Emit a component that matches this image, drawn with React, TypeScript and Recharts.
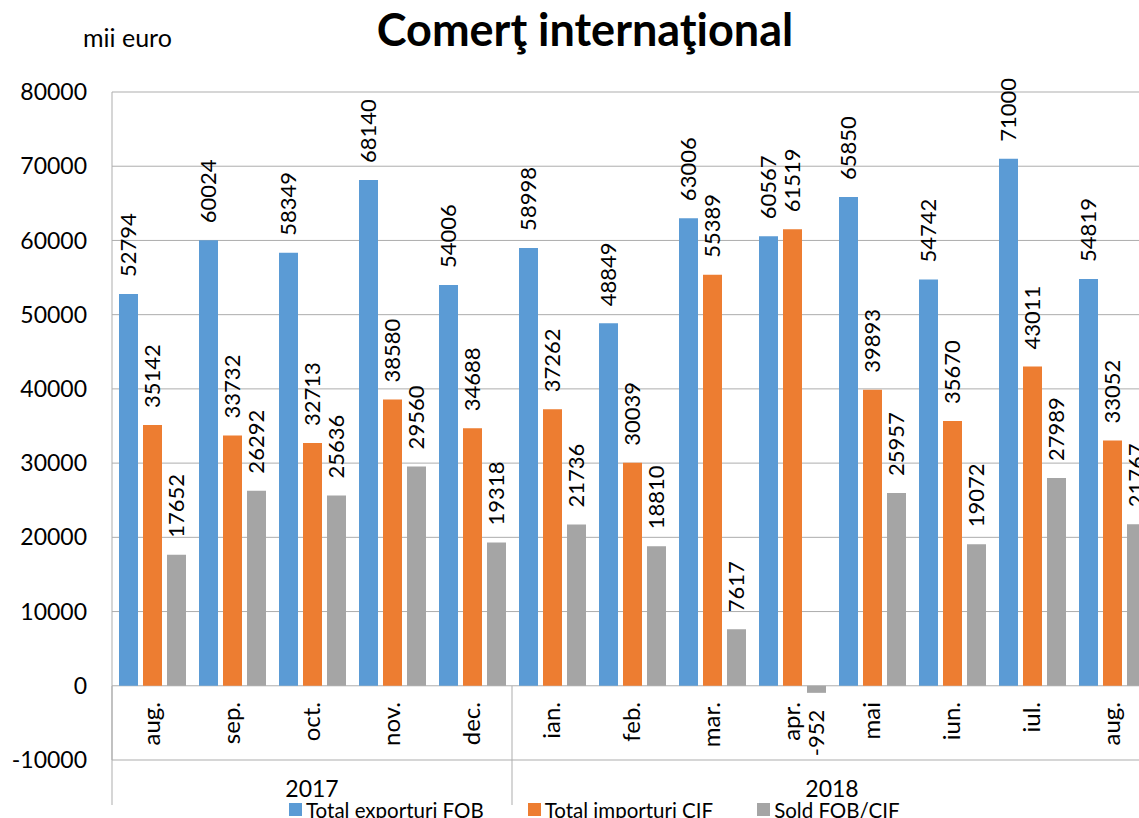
import React from 'react';
import { BarChart, Bar, XAxis, YAxis, CartesianGrid, Legend, LabelList } from 'recharts';

const months = ['aug.', 'sep.', 'oct.', 'nov.', 'dec.', 'ian.', 'feb.', 'mar.', 'apr.', 'mai', 'iun.', 'iul.', 'aug.'];
const years = ['2017', '2018'];
const monthsPerYear = [5, 8];

const exporturi = [52794, 60024, 58349, 68140, 54006, 58998, 48849, 63006, 60567, 65850, 54742, 71000, 54819];
const importuri = [35142, 33732, 32713, 38580, 34688, 37262, 30039, 55389, 61519, 39893, 35670, 43011, 33052];
const sold = [17652, 26292, 25636, 29560, 19318, 21736, 18810, 7617, -952, 25957, 19072, 27989, 21767];

const seriesNames = ['Total exporturi FOB', 'Total importuri CIF', 'Sold FOB/CIF'];

const yTicks = [-10000, 0, 10000, 20000, 30000, 40000, 50000, 60000, 70000, 80000];

const data = months.map((m, i) => ({
  month: m,
  exp: exporturi[i],
  imp: importuri[i],
  sold: sold[i],
}));

const FONT = 'Lato, "Open Sans", sans-serif';
const GRID = '#adadad';

// group start index for each year, derived from monthsPerYear
const groupStarts = monthsPerYear.map((_, g) => monthsPerYear.slice(0, g).reduce((a, b) => a + b, 0));

const MonthTick = (props: any) => {
  const { x, y, payload, index } = props;
  const half = payload && payload.offset ? payload.offset : 40;
  const g = groupStarts.indexOf(index);
  const lastIdx = months.length - 1;
  return (
    <g>
      <text
        x={x}
        y={y - 58}
        transform={`rotate(-90, ${x}, ${y - 58})`}
        textAnchor="end"
        dy="0.35em"
        fontSize={24}
        fontFamily={FONT}
        fill="#000"
      >
        {payload.value}
      </text>
      {g >= 0 && (
        <>
          <line x1={x - half} x2={x - half} y1={y - 74} y2={y + 45} stroke={GRID} strokeWidth={1} />
          <text
            x={x - half + monthsPerYear[g] * half}
            y={y + 37}
            textAnchor="middle"
            fontSize={23}
            fontFamily={FONT}
            fill="#000"
          >
            {years[g]}
          </text>
        </>
      )}
      {index === lastIdx && (
        <line x1={x + half} x2={x + half} y1={y - 74} y2={y + 45} stroke={GRID} strokeWidth={1} />
      )}
    </g>
  );
};

const ValueLabel = (props: any) => {
  const { x, y, width, height, value } = props;
  const cx = x + width / 2;
  const top = Math.min(y, y + height);
  const bottom = Math.max(y, y + height);
  const neg = value < 0;
  const ty = neg ? bottom + 17 : top - 17;
  return (
    <text
      x={cx}
      y={ty}
      transform={`rotate(-90, ${cx}, ${ty})`}
      textAnchor={neg ? 'end' : 'start'}
      dy="0.36em"
      fontSize={22}
      fontFamily={FONT}
      fill="#000"
    >
      {value}
    </text>
  );
};

const LegendContent = (props: any) => {
  const items = [...(props.payload || [])].sort(
    (a: any, b: any) => seriesNames.indexOf(a.value) - seriesNames.indexOf(b.value)
  );
  return (
    <div style={{ display: 'flex', height: 28, paddingLeft: 289, fontFamily: FONT, fontSize: 20.5, color: '#000' }}>
      {items.map((p: any, i: number) => (
        <div key={i} style={{ display: 'flex', alignItems: 'flex-start', marginRight: 44, lineHeight: '17px' }}>
          <span style={{ display: 'inline-block', width: 13, height: 13, background: p.color, marginRight: 4, marginTop: 1 }} />
          <span>{p.value}</span>
        </div>
      ))}
    </div>
  );
};

export default function App() {
  return (
    <div style={{ position: 'absolute', left: 0, top: 0, width: 1139, height: 818, overflow: 'hidden', background: '#fff' }}>
      <div style={{ position: 'absolute', left: 83, top: 22, fontFamily: FONT, fontSize: 25, color: '#000' }}>mii euro</div>
      <div
        style={{
          position: 'absolute',
          left: 0,
          width: 1170,
          top: 2,
          textAlign: 'center',
          fontFamily: FONT,
          fontWeight: 'bold',
          fontSize: 45,
          color: '#000',
        }}
      >
        Comerţ internaţional
      </div>
      <div style={{ position: 'absolute', left: 0, top: 0 }}>
        <BarChart
          width={1184}
          height={830}
          data={data}
          margin={{ top: 92, right: 32, left: 0, bottom: 0 }}
          barCategoryGap={7}
          barGap={5}
        >
          <CartesianGrid vertical={false} stroke={GRID} />
          <XAxis
            dataKey="month"
            interval={0}
            axisLine={false}
            tickLine={false}
            tickSize={0}
            tickMargin={0}
            height={42}
            tick={<MonthTick />}
          />
          <YAxis
            domain={[-10000, 80000]}
            ticks={yTicks}
            interval={0}
            width={112}
            axisLine={{ stroke: GRID }}
            tickLine={false}
            tickSize={0}
            tickMargin={25}
            tick={{ fontSize: 23, fontFamily: FONT, fill: '#000' }}
          />
          <Legend verticalAlign="bottom" content={<LegendContent />} />
          <Bar dataKey="exp" name={seriesNames[0]} fill="#5B9BD5" isAnimationActive={false}>
            <LabelList dataKey="exp" content={<ValueLabel />} />
          </Bar>
          <Bar dataKey="imp" name={seriesNames[1]} fill="#ED7D31" isAnimationActive={false}>
            <LabelList dataKey="imp" content={<ValueLabel />} />
          </Bar>
          <Bar dataKey="sold" name={seriesNames[2]} fill="#A5A5A5" isAnimationActive={false}>
            <LabelList dataKey="sold" content={<ValueLabel />} />
          </Bar>
        </BarChart>
      </div>
    </div>
  );
}
